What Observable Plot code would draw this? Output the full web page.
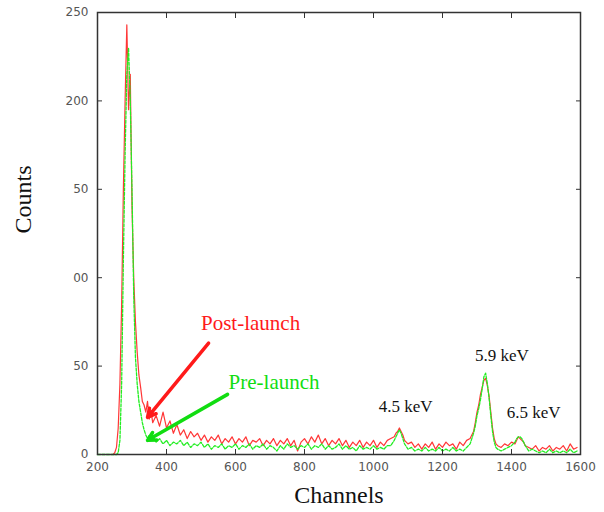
<!DOCTYPE html>
<html>
<head>
<meta charset="utf-8">
<script src="https://cdn.jsdelivr.net/npm/d3@7"></script>
<script src="https://cdn.jsdelivr.net/npm/@observablehq/plot@0.6"></script>
<style>
  html, body { margin: 0; padding: 0; background: #fff; }
  #chart svg { display: block; }
</style>
</head>
<body>
<div id="chart"></div>
<script>
// ---- data ----
const channels = [
  200,210,220,230,240,245,250,255,260,265,270,275,280,285,290,295,300,305,310,315,320,325,330,335,340,345,350,355,360,
  370,380,390,400,410,420,430,440,450,460,470,480,490,500,510,520,530,540,550,560,570,580,590,
  600,610,620,630,640,650,660,670,680,690,700,710,720,730,740,750,760,770,780,790,
  800,810,820,830,840,850,860,870,880,890,900,910,920,930,940,950,960,970,980,990,
  1000,1010,1020,1030,1040,1050,1060,1065,1070,1075,1080,1085,1090,1100,1110,1120,1130,1140,1150,1160,1170,1180,1190,
  1200,1210,1220,1230,1240,1250,1260,1270,1280,1285,1290,1295,1300,1305,1310,1315,1320,1325,1330,1335,1340,1345,1350,1355,1360,1370,1380,1390,
  1400,1410,1415,1420,1425,1430,1435,1440,1450,1460,1470,1480,1490,1500,1510,1520,1530,1540,1550,1560,1570,1580,1590
];
const postLaunch = [
  0,0,0,0,0,0,1,4,15,40,85,150,200,243,195,215,140,100,75,58,45,38,30,28,24,30,20,25,18,
  22,16,24,15,19,12,17,11,14,9,13,10,12,8,11,7,10,8,11,6,9,7,10,
  6,9,7,10,5,8,7,9,5,8,6,9,5,8,6,9,5,8,2,7,
  9,6,10,7,11,6,9,5,8,6,9,5,8,4,7,5,8,4,7,5,
  8,4,7,5,8,9,10,12,13,15,13,11,8,6,7,4,6,3,6,4,7,3,6,
  4,7,5,6,3,7,5,8,9,11,13,18,24,28,34,38,42,43,39,33,24,15,9,6,5,4,6,5,
  7,6,8,10,9,8,7,5,4,3,5,2,4,3,5,2,4,3,5,2,6,3,4
];
const preLaunch = [
  0,0,0,0,0,0,0,0,1,8,40,110,170,215,230,200,150,90,55,40,30,24,18,14,11,9,11,8,10,
  7,9,6,8,5,7,6,8,5,7,4,6,5,7,4,6,3,5,4,6,3,5,4,
  6,3,5,4,6,3,5,4,6,3,5,4,2,5,3,6,4,5,3,5,
  4,6,3,5,4,6,3,5,3,4,6,3,5,3,4,2,5,3,4,3,
  5,3,4,3,5,5,8,10,12,14,12,9,6,3,4,2,3,2,4,2,3,2,4,
  2,3,2,4,2,3,2,4,6,9,12,16,22,26,31,37,44,46,40,32,22,13,7,4,3,2,3,4,
  5,7,9,10,10,9,7,5,2,3,2,1,2,1,3,1,2,1,2,1,3,1,2
];
const xTicks = [200, 400, 600, 800, 1000, 1200, 1400, 1600];
const yTicks = [0, 50, 100, 150, 200, 250];
const yTickLabels = ["0", "50", "00", "50", "200", "250"];

// annotations in data units (channel, counts)
const seriesLabels = [
  {text: "Post-launch", ch: 500, counts: 74, color: "#ff1a1a"},
  {text: "Pre-launch", ch: 580, counts: 41, color: "#11dd11"}
];
const arrows = [
  {x1: 522, y1: 63, x2: 345, y2: 21, color: "#ff1a1a"},
  {x1: 577, y1: 34, x2: 345, y2: 8, color: "#11dd11"}
];
const peakLabels = [
  {text: "4.5 keV", ch: 1093, counts: 27},
  {text: "5.9 keV", ch: 1372, counts: 56},
  {text: "6.5 keV", ch: 1464, counts: 24}
];

const post = channels.map((c, i) => ({ch: c, v: postLaunch[i]}));
const pre = channels.map((c, i) => ({ch: c, v: preLaunch[i]}));

const tickFont = "DejaVu Sans, sans-serif";
const serif = "Liberation Serif, DejaVu Serif, serif";

const chart = Plot.plot({
  width: 604,
  height: 512,
  marginLeft: 97,
  marginRight: 24,
  marginTop: 12,
  marginBottom: 58,
  style: {background: "#fff", overflow: "visible"},
  x: {domain: [200, 1600]},
  y: {domain: [0, 250]},
  marks: [
    Plot.line(post, {x: "ch", y: "v", stroke: "#ff2020", strokeWidth: 1.2, strokeOpacity: 0.9}),
    Plot.line(pre, {x: "ch", y: "v", stroke: "#22ee22", strokeWidth: 1.3, strokeDasharray: "3,1.5"}),
    Plot.frame({stroke: "#333", strokeWidth: 1.5}),
    Plot.axisX({anchor: "bottom", ticks: xTicks, tickSize: -5, tickPadding: 13, label: null,
      tickFormat: (d) => String(d),
      fontSize: 12, fontFamily: tickFont, fill: "#555", style: {letterSpacing: "1.5px"}, stroke: "#333"}),
    Plot.axisX({anchor: "top", ticks: xTicks, tickSize: -5, tickFormat: () => "", label: null, stroke: "#333"}),
    Plot.axisY({anchor: "left", ticks: yTicks, tickSize: -5, tickPadding: 14, label: null,
      tickFormat: (d) => yTickLabels[yTicks.indexOf(d)],
      fontSize: 12, fontFamily: tickFont, fill: "#555", style: {letterSpacing: "1px"}, stroke: "#333"}),
    Plot.axisY({anchor: "right", ticks: yTicks, tickSize: -5, tickFormat: () => "", label: null, stroke: "#333"}),
    Plot.arrow(arrows, {x1: "x1", y1: "y1", x2: "x2", y2: "y2", stroke: "color", strokeWidth: 3.5, headLength: 4, headAngle: 55}),
    Plot.text(seriesLabels, {x: "ch", y: "counts", text: "text", fill: "color", textAnchor: "start",
      fontSize: 21, fontFamily: serif}),
    Plot.text(peakLabels, {x: "ch", y: "counts", text: "text", fill: "#111", fontSize: 17, fontFamily: serif}),
    Plot.text(["Channels"], {frameAnchor: "bottom", dy: 48, text: (d) => d, fontSize: 24, fontFamily: serif, fill: "#111"}),
    Plot.text(["Counts"], {frameAnchor: "left", dx: -74, rotate: -90, text: (d) => d, fontSize: 24, fontFamily: serif, fill: "#111"})
  ]
});
document.getElementById("chart").appendChild(chart);
</script>
</body>
</html>
